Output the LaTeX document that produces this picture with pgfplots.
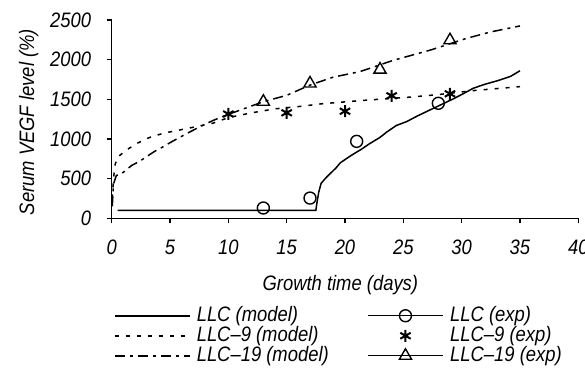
\documentclass[border=0pt]{standalone}
\usepackage{fontspec}
\setmainfont{Liberation Sans}[FakeStretch=0.88]
\usepackage{pgfplots}
\pgfplotsset{compat=1.18}
\begin{document}
\begin{tikzpicture}[font=\fontsize{21}{21}\selectfont\itshape]
\begin{axis}[
  at={(111.7bp,-218.3bp)}, anchor=origin,
  scale only axis, width=466.6bp, height=198.3bp,
  xmin=0, xmax=40, ymin=0, ymax=2500,
  enlargelimits=false,
  axis lines=left, axis line style={-, line width=1.3bp},
  xtick={0,5,...,40}, ytick={0,500,...,2500},
  tick align=outside, major tick length=5bp,
  tick style={line width=1.3bp, black},
  /pgf/number format/assume math mode=true,
  /pgf/number format/1000 sep={},
  xticklabel style={yshift=-13bp},
  yticklabel style={xshift=-12bp},
  xlabel={Growth time (days)},
  ylabel={Serum VEGF level (\%)},
  xlabel style={at={(axis description cs:0.49,0)}, anchor=center, yshift=-67bp},
  ylabel style={at={(axis description cs:0,0.485)}, anchor=center, yshift=83bp},
  legend columns=2,
  legend cell align=left,
  legend style={draw=none, fill=none, inner sep=0pt, at={(0.004,-0.44)}, anchor=north west,
    column sep=0pt, row sep=0pt,
    nodes={inner xsep=2.5bp, inner ysep=0.25bp, text height=15bp, text depth=4.5bp},
    /tikz/every odd column/.append style={column sep=4bp},
    /tikz/every even column/.append style={column sep=36bp}},
  legend image code/.code={\draw[mark repeat=2,mark phase=2,#1] plot coordinates {(0bp,0bp)(37.5bp,0bp)(75bp,0bp)};},
]
% LLC model
\addplot[black, line width=1.5bp, forget plot] coordinates {
(0.5,100)(17.5,100)(17.6,200)(17.75,330)(17.95,440)(18.3,500)(18.7,560)(19.2,630)(19.6,700)(20.5,790)(21.4,870)(22.1,940)(23,1020)(23.6,1090)(24.4,1170)(25.3,1220)(26.2,1290)(27.2,1360)(28.2,1430)(29.2,1500)(30,1560)(31,1640)(32,1690)(33.2,1740)(34.2,1790)(35,1860)};
% LLC-9 model
\addplot[black, line width=1.5bp, dash pattern=on 4bp off 7bp, forget plot] coordinates {
(0.05,250)(0.15,500)(0.3,680)(0.5,770)(1.26,860)(2.1,940)(3.26,1020)(4.5,1075)(6.4,1130)(8.7,1200)(10,1270)(12,1330)(14,1380)(16.1,1410)(18.1,1445)(21.6,1487)(25.8,1530)(28,1560)(31,1610)(35,1660)};
% LLC-19 model
\addplot[black, line width=1.5bp, dash pattern=on 10bp off 5bp on 3bp off 5bp, forget plot] coordinates {
(0.05,150)(0.15,430)(0.4,540)(0.83,560)(1.7,665)(2.4,720)(3.7,846)(4.1,876)(5.2,970)(6.4,1066)(7.5,1150)(8.7,1234)(9.8,1300)(11.5,1390)(13,1470)(15,1550)(17,1680)(19,1780)(21.3,1850)(24.1,1990)(27.3,2120)(30.4,2268)(32.5,2350)(35,2425)};
% LLC exp
\addplot[black, only marks, mark=o, mark size=6bp, line width=1.4bp, mark options={fill=white}, forget plot] coordinates {
(13,130)(17,255)(21,970)(28,1450)};
% LLC-9 exp
\addplot[black, only marks, mark=asterisk, mark size=6bp, line width=2bp, forget plot] coordinates {
(10,1315)(15,1330)(20,1350)(24,1545)(29,1570)};
% LLC-19 exp
\addplot[black, only marks, mark=triangle, mark size=7bp, line width=1.4bp, mark options={fill=white}, forget plot] coordinates {
(13,1470)(17,1700)(23,1875)(29,2245)};
% legend
\addlegendimage{black, line width=1.5bp}
\addlegendentry{LLC (model)}
\addlegendimage{black, line width=1.4bp, mark=o, mark size=6bp, mark options={fill=white}}
\addlegendentry{LLC (exp)}
\addlegendimage{black, line width=1.5bp, dash pattern=on 4bp off 7bp}
\addlegendentry{LLC--9 (model)}
\addlegendimage{black, only marks, line width=2bp, mark=asterisk, mark size=6bp}
\addlegendentry{LLC--9 (exp)}
\addlegendimage{black, line width=1.5bp, dash pattern=on 10bp off 5bp on 3bp off 5bp}
\addlegendentry{LLC--19 (model)}
\addlegendimage{black, line width=1.4bp, mark=triangle, mark size=7bp, mark options={fill=white}}
\addlegendentry{LLC--19 (exp)}
\end{axis}
\pgfresetboundingbox
\useasboundingbox (0,0) rectangle (585bp,-375bp);
\end{tikzpicture}
\end{document}
